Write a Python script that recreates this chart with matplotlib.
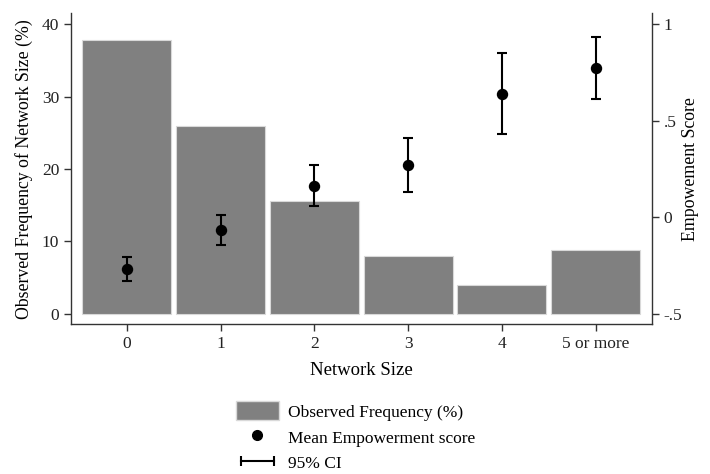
import matplotlib
matplotlib.use("Agg")
import matplotlib.pyplot as plt
import numpy as np
from matplotlib.lines import Line2D
from matplotlib.patches import Patch
from matplotlib.legend_handler import HandlerLine2D

categories = ["0", "1", "2", "3", "4", "5 or more"]
freq_pct = [37.9, 25.9, 15.6, 8.0, 3.9, 8.8]
emp_mean = [-0.267, -0.067, 0.164, 0.271, 0.639, 0.774]
emp_lo = [-0.330, -0.145, 0.057, 0.130, 0.430, 0.615]
emp_hi = [-0.205, 0.010, 0.269, 0.411, 0.850, 0.935]

plt.rcParams["font.family"] = ["Liberation Serif", "DejaVu Serif"]
FS = 12.5
AX_COL = "#333333"

fig = plt.figure(figsize=(7.1, 4.74), dpi=100)
ax = fig.add_axes([0.1, 0.3165, 0.8179, 0.6554])
x = np.arange(len(categories))

ax.bar(x, freq_pct, width=0.95, color="#808080", edgecolor="#d9d9d9",
       linewidth=0.8, zorder=1)
ax.set_xlim(-0.594, 5.597)
left_lim = (-1.44, 41.53)
ax.set_ylim(*left_lim)
ax.set_yticks([0, 10, 20, 30, 40])
ax.set_xticks(x)
ax.set_xticklabels(categories)
ax.set_ylabel("Observed Frequency of Network Size (%)", fontsize=12.8, labelpad=6)
ax.set_xlabel("Network Size", fontsize=13.5, labelpad=7)

ax2 = ax.twinx()
# right axis: 0% on the left lines up with -.5, 40% with 1
ax2.set_ylim(-0.5 + left_lim[0] * 1.5 / 40, -0.5 + left_lim[1] * 1.5 / 40)
ax2.set_yticks([-0.5, 0, 0.5, 1])
ax2.set_yticklabels(["-.5", "0", ".5", "1"])
ax2.set_ylabel("Empowement Score", fontsize=12.8, labelpad=0)
yerr = [np.array(emp_mean) - np.array(emp_lo), np.array(emp_hi) - np.array(emp_mean)]
ax2.errorbar(x, emp_mean, yerr=yerr, fmt="o", color="black", ms=7.2,
             ecolor="black", elinewidth=1.5, capsize=3.3, capthick=1.5, zorder=3)

for a in (ax, ax2):
    a.spines["top"].set_visible(False)
    for s in a.spines.values():
        s.set_color(AX_COL)
        s.set_linewidth(1.0)
    a.tick_params(axis="both", colors=AX_COL, labelcolor="#222222",
                  labelsize=FS, length=5, width=1.0)
ax.spines["right"].set_visible(False)
ax2.spines["left"].set_visible(False)
ax2.spines["bottom"].set_visible(False)

ci_handle = Line2D([], [], color="black", lw=1.5, marker="|", ms=7, mew=1.5)
handles = [
    Patch(facecolor="#808080", edgecolor="#d9d9d9"),
    Line2D([], [], color="black", marker="o", ms=7, ls="none"),
    ci_handle,
]
labels = ["Observed Frequency (%)", "Mean Empowerment score", "95% CI"]
fig.legend(handles, labels, loc="upper left", bbox_to_anchor=(0.310, 0.186),
           frameon=False, fontsize=FS, handlelength=2.5, handleheight=1.3,
           labelspacing=0.38, handletextpad=0.5,
           handler_map={ci_handle: HandlerLine2D(numpoints=2)})

fig.savefig("out.png", dpi=100)
